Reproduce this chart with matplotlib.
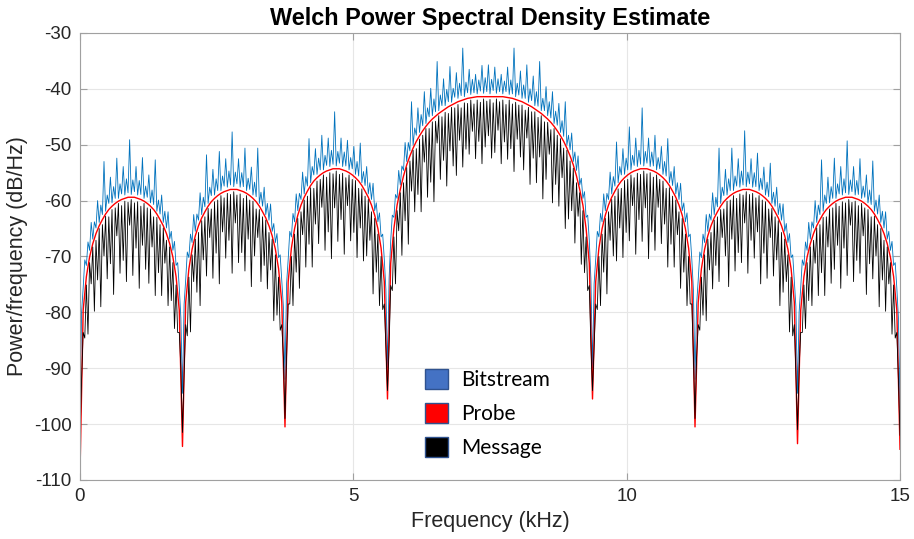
import numpy as np
import matplotlib
matplotlib.use("Agg")
import matplotlib.pyplot as plt
from matplotlib.patches import Patch

plt.rcParams["axes.unicode_minus"] = False

# Welch PSD readings (dB/Hz), evenly spaced over 0..15 kHz.
# Grid values include the 8 nulls (0, 1.875, 3.75, 5.625, 9.375, 11.25, 13.125, 15 kHz).
probe_db = [
    -109.0,
    -79.6, -73.6, -70.1, -67.7, -65.9, -64.5, -63.4, -62.4, -61.6, -61.0, -60.5, -60.1, -59.8, -59.6, -59.4, -59.4,
    -59.4, -59.6, -59.8, -60.1, -60.5, -61.0, -61.6, -62.4, -63.4, -64.5, -65.9, -67.7, -70.1, -73.6, -79.6,
    -104.0,
    -78.2, -72.2, -68.7, -66.3, -64.5, -63.1, -62.0, -61.0, -60.2, -59.6, -59.1, -58.7, -58.4, -58.2, -58.0, -58.0,
    -58.0, -58.2, -58.4, -58.7, -59.1, -59.6, -60.2, -61.0, -62.0, -63.1, -64.5, -66.3, -68.7, -72.2, -78.2,
    -100.5,
    -74.5, -68.5, -65.0, -62.6, -60.8, -59.4, -58.3, -57.3, -56.5, -55.9, -55.4, -55.0, -54.7, -54.5, -54.3, -54.3,
    -54.3, -54.5, -54.7, -55.0, -55.4, -55.9, -56.5, -57.3, -58.3, -59.4, -60.8, -62.6, -65.0, -68.5, -74.5,
    -95.5,
    -71.2, -65.0, -60.8, -58.0, -55.6, -53.6, -52.0, -50.6, -49.4, -48.4, -47.5, -46.7, -46.0, -45.4, -44.9, -44.4,
    -44.0, -43.6, -43.2, -42.9, -42.6, -42.3, -42.1, -41.9, -41.7, -41.6, -41.5, -41.4, -41.4, -41.4, -41.4, -41.4,
    -41.4, -41.4, -41.4, -41.4, -41.5, -41.6, -41.7, -41.9, -42.1, -42.3, -42.6, -42.9, -43.2, -43.6, -44.0, -44.4,
    -44.9, -45.4, -46.0, -46.7, -47.5, -48.4, -49.4, -50.6, -52.0, -53.6, -55.6, -58.0, -60.8, -65.0, -71.2,
    -95.5,
    -74.5, -68.5, -65.0, -62.6, -60.8, -59.4, -58.3, -57.3, -56.5, -55.9, -55.4, -55.0, -54.7, -54.5, -54.3, -54.3,
    -54.3, -54.5, -54.7, -55.0, -55.4, -55.9, -56.5, -57.3, -58.3, -59.4, -60.8, -62.6, -65.0, -68.5, -74.5,
    -100.5,
    -78.2, -72.2, -68.7, -66.3, -64.5, -63.1, -62.0, -61.0, -60.2, -59.6, -59.1, -58.7, -58.4, -58.2, -58.0, -58.0,
    -58.0, -58.2, -58.4, -58.7, -59.1, -59.6, -60.2, -61.0, -62.0, -63.1, -64.5, -66.3, -68.7, -72.2, -78.2,
    -103.5,
    -79.6, -73.6, -70.1, -67.7, -65.9, -64.5, -63.4, -62.4, -61.6, -61.0, -60.5, -60.1, -59.8, -59.6, -59.4, -59.4,
    -59.4, -59.6, -59.8, -60.1, -60.5, -61.0, -61.6, -62.4, -63.4, -64.5, -65.9, -67.7, -70.1, -73.6, -79.6,
    -104.5,
]

# bitstream trace: lower points on the grid, upper points half way between
bitstream_lo_db = [
    -97.0,
    -75.6, -71.6, -68.9, -66.9, -64.9, -63.9, -62.5, -61.9, -60.5, -60.4, -59.6, -59.6, -58.8, -59.0, -58.6, -58.9,
    -58.4, -59.0, -58.9, -59.6, -59.4, -60.4, -60.7, -61.9, -62.4, -63.9, -64.9, -66.9, -68.9, -71.6, -75.6,
    -94.5,
    -74.2, -70.2, -67.5, -65.5, -63.5, -62.5, -61.1, -60.5, -59.1, -59.0, -58.2, -58.2, -57.4, -57.6, -57.2, -57.5,
    -57.0, -57.6, -57.5, -58.2, -58.0, -59.0, -59.3, -60.5, -61.0, -62.5, -63.5, -65.5, -67.5, -70.2, -74.2,
    -92.0,
    -70.5, -66.5, -63.8, -61.8, -59.8, -58.8, -57.4, -56.8, -55.4, -55.3, -54.5, -54.5, -53.7, -53.9, -53.5, -53.8,
    -53.3, -53.9, -53.8, -54.5, -54.3, -55.3, -55.6, -56.8, -57.3, -58.8, -59.8, -61.8, -63.8, -66.5, -70.5,
    -90.0,
    -67.2, -63.0, -59.6, -57.2, -54.6, -53.0, -51.1, -50.1, -48.3, -47.8, -46.6, -46.2, -45.0, -44.8, -44.1, -43.9,
    -43.0, -43.0, -42.3, -42.4, -41.5, -41.7, -41.2, -41.4, -40.7, -41.0, -40.7, -40.9, -40.4, -40.8, -40.5, -40.9,
    -40.3, -40.8, -40.5, -40.9, -40.5, -41.0, -40.9, -41.4, -41.1, -41.7, -41.7, -42.4, -42.1, -43.0, -43.1, -43.9,
    -43.9, -44.8, -45.2, -46.2, -46.5, -47.8, -48.5, -50.1, -50.9, -53.0, -54.6, -57.2, -59.6, -63.0, -67.2,
    -90.0,
    -70.5, -66.5, -63.8, -61.8, -59.8, -58.8, -57.4, -56.8, -55.4, -55.3, -54.5, -54.5, -53.7, -53.9, -53.5, -53.8,
    -53.3, -53.9, -53.8, -54.5, -54.3, -55.3, -55.6, -56.8, -57.3, -58.8, -59.8, -61.8, -63.8, -66.5, -70.5,
    -92.0,
    -74.2, -70.2, -67.5, -65.5, -63.5, -62.5, -61.1, -60.5, -59.1, -59.0, -58.2, -58.2, -57.4, -57.6, -57.2, -57.5,
    -57.0, -57.6, -57.5, -58.2, -58.0, -59.0, -59.3, -60.5, -61.0, -62.5, -63.5, -65.5, -67.5, -70.2, -74.2,
    -94.5,
    -75.6, -71.6, -68.9, -66.9, -64.9, -63.9, -62.5, -61.9, -60.5, -60.4, -59.6, -59.6, -58.8, -59.0, -58.6, -58.9,
    -58.4, -59.0, -58.9, -59.6, -59.4, -60.4, -60.7, -61.9, -62.4, -63.9, -64.9, -66.9, -68.9, -71.6, -75.6,
    -97.0,
]

bitstream_hi_db = [
    -80.0, -70.6, -67.4, -63.9, -63.8, -60.0, -60.8, -53.0, -59.0, -55.8, -57.5, -52.4, -57.0, -53.9, -56.1, -49.1,
    -56.3, -53.9, -56.4, -52.3, -57.4, -55.4, -58.1, -52.7, -59.9, -59.0, -61.9, -62.0, -65.5, -67.3, -71.1, -81.0,
    -78.6, -69.2, -66.0, -62.5, -62.4, -58.6, -59.4, -51.8, -57.6, -54.4, -56.1, -51.2, -55.6, -52.5, -54.7, -47.7,
    -54.9, -52.5, -55.0, -50.6, -56.0, -54.0, -56.7, -50.6, -58.5, -57.6, -60.5, -60.6, -64.1, -65.9, -69.7, -79.0,
    -74.9, -65.5, -62.3, -58.8, -58.7, -54.9, -55.7, -48.9, -53.9, -50.7, -52.4, -48.3, -51.9, -48.8, -51.0, -44.1,
    -51.2, -48.8, -51.3, -49.2, -52.3, -50.3, -53.0, -49.7, -54.8, -53.9, -56.8, -56.9, -60.4, -62.2, -66.0, -75.9,
    -74.0, -62.6, -58.9, -54.6, -53.8, -49.6, -49.6, -42.3, -47.0, -43.4, -44.6, -40.5, -43.4, -39.9, -41.8, -35.1,
    -41.1, -38.2, -40.1, -36.0, -39.9, -37.1, -39.0, -32.7, -38.8, -36.5, -38.3, -37.4, -38.4, -35.8, -38.0, -35.7,
    -38.3, -36.1, -38.2, -37.4, -38.6, -36.1, -38.4, -32.7, -39.0, -36.8, -39.3, -35.7, -40.0, -37.7, -40.5, -35.1,
    -41.7, -39.6, -42.3, -40.5, -44.0, -42.6, -45.7, -42.3, -48.3, -47.9, -51.3, -52.0, -56.0, -58.4, -62.6, -74.0,
    -74.9, -65.5, -62.3, -58.8, -58.7, -54.9, -55.7, -49.5, -53.9, -50.7, -52.4, -46.8, -51.9, -48.8, -51.0, -43.4,
    -51.2, -48.8, -51.3, -48.3, -52.3, -50.3, -53.0, -48.9, -54.8, -53.9, -56.8, -56.9, -60.4, -62.2, -66.0, -75.9,
    -78.6, -69.2, -66.0, -62.5, -62.4, -58.6, -59.4, -50.6, -57.6, -54.4, -56.1, -50.6, -55.6, -52.5, -54.7, -47.5,
    -54.9, -52.5, -55.0, -51.5, -56.0, -54.0, -56.7, -53.3, -58.5, -57.6, -60.5, -60.6, -64.1, -65.9, -69.7, -79.0,
    -80.0, -70.6, -67.4, -63.9, -63.8, -60.0, -60.8, -52.7, -59.0, -55.8, -57.5, -52.4, -57.0, -53.9, -56.1, -49.3,
    -56.3, -53.9, -56.4, -52.5, -57.4, -55.4, -58.1, -52.9, -59.9, -59.0, -61.9, -62.0, -65.5, -67.3, -71.1, -81.0,
]

# message trace: upper points on the grid, dips half way between
message_hi_db = [
    -103.0,
    -83.6, -75.1, -71.1, -68.3, -67.1, -65.0, -64.3, -62.8, -62.9, -61.6, -61.3, -60.5, -60.9, -60.1, -60.3, -59.8,
    -60.4, -60.2, -61.0, -60.5, -61.3, -61.5, -62.9, -63.0, -64.3, -64.9, -67.1, -68.3, -71.1, -75.1, -83.6,
    -101.5,
    -82.2, -73.7, -69.7, -66.9, -65.7, -63.6, -62.9, -61.4, -61.5, -60.2, -59.9, -59.1, -59.5, -58.7, -58.9, -58.4,
    -59.0, -58.8, -59.6, -59.1, -59.9, -60.1, -61.5, -61.6, -62.9, -63.5, -65.7, -66.9, -69.7, -73.7, -82.2,
    -99.0,
    -78.5, -70.0, -66.0, -63.2, -62.0, -59.9, -59.2, -57.7, -57.8, -56.5, -56.2, -55.4, -55.8, -55.0, -55.2, -54.7,
    -55.3, -55.1, -55.9, -55.4, -56.2, -56.4, -57.8, -57.9, -59.2, -59.8, -62.0, -63.2, -66.0, -70.0, -78.5,
    -94.0,
    -75.2, -66.5, -61.8, -58.6, -56.8, -54.1, -52.9, -51.0, -50.7, -49.0, -48.3, -47.1, -47.1, -45.9, -45.8, -44.8,
    -45.0, -44.2, -44.4, -43.3, -43.4, -42.8, -43.4, -42.5, -42.6, -42.0, -42.7, -42.0, -42.4, -41.8, -42.2, -41.9,
    -42.5, -41.8, -42.3, -42.0, -42.8, -42.0, -42.7, -42.4, -42.9, -42.9, -43.8, -43.3, -44.1, -44.1, -45.1, -44.8,
    -45.9, -46.0, -47.3, -47.1, -48.3, -48.9, -50.6, -51.0, -52.9, -54.2, -56.8, -58.6, -61.8, -66.5, -75.2,
    -94.0,
    -78.5, -70.0, -66.0, -63.2, -62.0, -59.8, -59.2, -57.9, -57.8, -56.4, -56.2, -55.4, -55.9, -55.1, -55.3, -54.7,
    -55.2, -55.0, -55.8, -55.4, -56.2, -56.5, -57.8, -57.7, -59.2, -59.9, -62.0, -63.2, -66.0, -70.0, -78.5,
    -99.0,
    -82.2, -73.7, -69.7, -66.9, -65.7, -63.5, -62.9, -61.6, -61.5, -60.1, -59.9, -59.1, -59.6, -58.8, -59.0, -58.4,
    -58.9, -58.7, -59.5, -59.1, -59.9, -60.2, -61.5, -61.4, -62.9, -63.6, -65.7, -66.9, -69.7, -73.7, -82.2,
    -101.0,
    -83.6, -75.1, -71.1, -68.3, -67.1, -64.9, -64.3, -63.0, -62.9, -61.5, -61.3, -60.5, -61.0, -60.2, -60.4, -59.8,
    -60.3, -60.1, -60.9, -60.5, -61.3, -61.6, -62.9, -62.8, -64.3, -65.0, -67.1, -68.3, -71.1, -75.1, -83.6,
    -102.0,
]

message_lo_db = [
    -92.0, -84.6, -83.9, -74.9, -79.8, -74.2, -79.0, -69.9, -74.0, -71.3, -76.8, -66.3, -73.0, -70.7, -74.5, -64.4,
    -73.4, -68.5, -75.7, -68.0, -72.3, -74.8, -68.3, -77.0, -72.9, -77.0, -71.2, -78.8, -77.9, -82.9, -83.6, -90.0,
    -91.0, -84.2, -83.5, -74.5, -76.4, -78.8, -70.6, -73.5, -66.6, -73.9, -69.4, -74.9, -65.6, -70.3, -67.1, -73.0,
    -64.0, -71.1, -69.3, -72.6, -66.9, -75.4, -69.9, -66.6, -74.5, -71.6, -75.8, -72.4, -81.5, -80.5, -83.2, -88.0,
    -88.0, -78.5, -78.8, -72.8, -75.7, -66.1, -71.9, -67.8, -71.9, -64.2, -67.7, -61.2, -68.9, -65.6, -70.4, -61.3,
    -67.3, -63.4, -69.6, -60.9, -67.2, -65.7, -70.2, -64.9, -70.8, -69.9, -67.1, -76.7, -72.8, -78.8, -79.5, -86.0,
    -86.0, -76.1, -74.9, -65.4, -69.8, -63.6, -67.8, -58.3, -62.0, -58.9, -62.0, -53.1, -59.4, -56.7, -60.2, -49.7,
    -56.2, -52.8, -57.4, -51.1, -53.8, -55.5, -49.2, -54.0, -50.8, -51.7, -47.6, -52.5, -49.4, -53.4, -50.4, -48.4,
    -52.4, -51.4, -47.4, -53.4, -49.5, -52.6, -50.7, -54.8, -49.0, -52.2, -54.5, -48.8, -57.1, -52.4, -56.8, -52.2,
    -59.7, -56.2, -51.7, -60.4, -57.1, -61.0, -55.9, -65.0, -63.3, -61.8, -67.6, -62.8, -71.4, -72.9, -76.1, -86.0,
    -86.0, -79.5, -78.8, -72.8, -76.7, -67.1, -69.9, -70.8, -64.9, -70.2, -65.7, -67.2, -60.9, -69.6, -63.4, -67.3,
    -61.3, -70.4, -65.6, -68.9, -61.2, -67.7, -64.2, -71.9, -67.8, -71.9, -66.1, -75.7, -72.8, -78.8, -78.5, -88.0,
    -88.0, -83.2, -80.5, -81.5, -72.4, -75.8, -71.6, -74.5, -66.6, -69.9, -75.4, -66.9, -72.6, -69.3, -71.1, -64.0,
    -73.0, -67.1, -70.3, -65.6, -74.9, -69.4, -73.9, -66.6, -73.5, -70.6, -78.8, -76.4, -74.5, -83.5, -84.2, -91.0,
    -90.0, -83.6, -82.9, -77.9, -78.8, -71.2, -77.0, -72.9, -77.0, -68.3, -74.8, -72.3, -68.0, -75.7, -68.5, -73.4,
    -64.4, -74.5, -70.7, -73.0, -66.3, -76.8, -71.3, -74.0, -69.9, -79.0, -74.2, -79.8, -74.9, -83.9, -84.6, -92.0,
]

legend_labels = ["Bitstream", "Probe", "Message"]
legend_colors = ["#4472C4", "#FF0000", "#000000"]

n = len(probe_db)
assert len(bitstream_lo_db) == n and len(message_hi_db) == n
assert len(bitstream_hi_db) == n - 1 and len(message_lo_db) == n - 1

freq_khz = np.linspace(0, 15, n)
fine_khz = np.linspace(0, 15, 2 * n - 1)

bitstream = np.empty(2 * n - 1)
bitstream[0::2] = bitstream_lo_db
bitstream[1::2] = bitstream_hi_db
message = np.empty(2 * n - 1)
message[0::2] = message_hi_db
message[1::2] = message_lo_db

fig = plt.figure(figsize=(9.14, 5.39), dpi=100)
ax = fig.add_axes([0.0875, 0.1095, 0.8972, 0.8293])

ax.plot(fine_khz, bitstream, color="#0072BD", lw=0.6)
ax.plot(freq_khz, probe_db, color="#FF0000", lw=1.0)
ax.plot(fine_khz, message, color="#000000", lw=0.6)

ax.set_xlim(0, 15)
ax.set_ylim(-110, -30)
ax.set_xticks([0, 5, 10, 15])
ax.set_yticks(np.arange(-110, -29, 10))
ax.grid(True, color="#e6e6e6", lw=0.8)
ax.set_axisbelow(True)
for s in ax.spines.values():
    s.set_color("#a0a0a0")
    s.set_linewidth(0.8)
ax.tick_params(direction="in", length=5, color="#a0a0a0", top=True, right=True,
               labelsize=13.5, labelcolor="#262626", pad=6)
for lab in ax.get_xticklabels() + ax.get_yticklabels():
    lab.set_family("Liberation Sans")

ax.set_xlabel("Frequency (kHz)", fontsize=15.5, color="#262626", family="Liberation Sans")
ax.set_ylabel("Power/frequency (dB/Hz)", fontsize=15.5, color="#262626", family="Liberation Sans")
ax.set_title("Welch Power Spectral Density Estimate", fontsize=16.9, fontweight="bold",
             family="Liberation Sans", pad=6)

handles = [Patch(facecolor=c, edgecolor="#2F528F", lw=1.0) for c in legend_colors]
ax.legend(handles, legend_labels, loc="upper left", bbox_to_anchor=(0.411, 0.268),
          borderaxespad=0, frameon=False, prop={"family": "Lato", "size": 15},
          handlelength=1.1, handleheight=1.1, labelspacing=0.62, handletextpad=0.6)

fig.savefig("out.png", dpi=100)
